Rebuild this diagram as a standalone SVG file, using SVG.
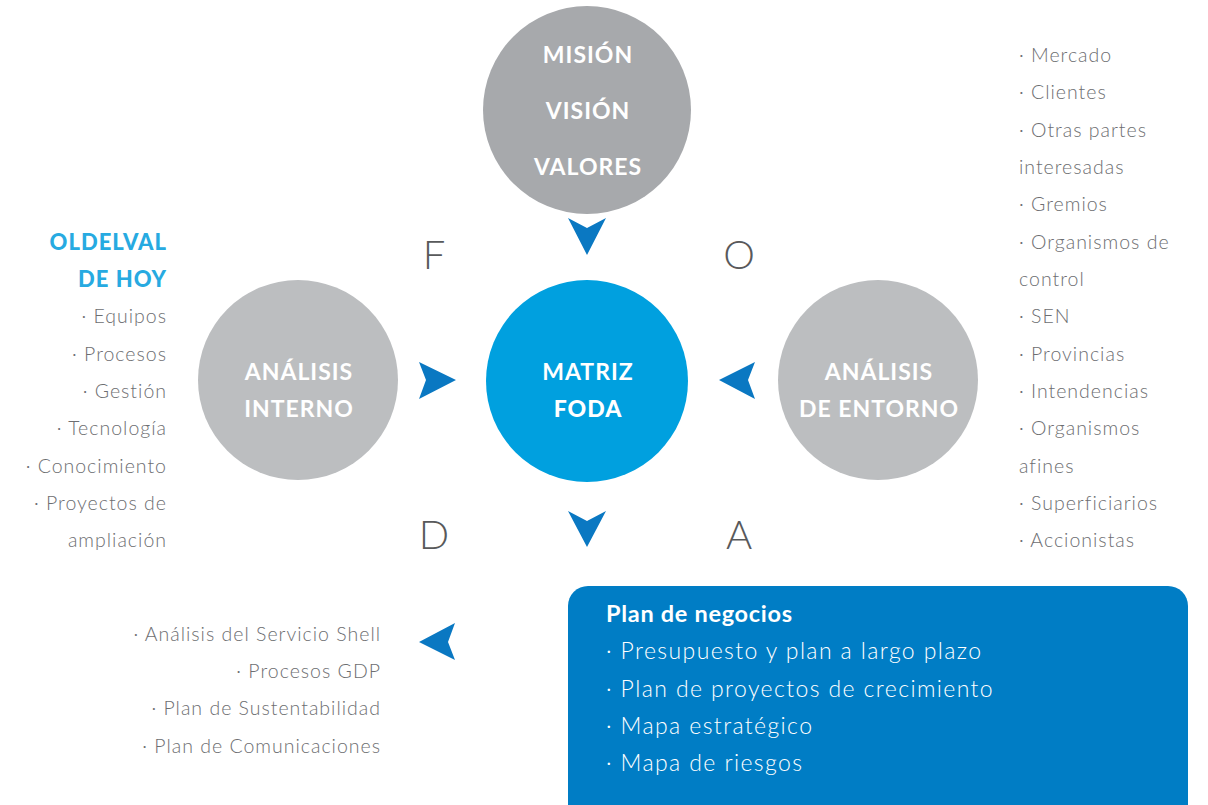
<svg xmlns="http://www.w3.org/2000/svg" width="1208" height="805" viewBox="0 0 1208 805">
<defs>
<style>
.ct{font-family:Lato,"Open Sans","Liberation Sans",sans-serif;font-weight:700;fill:#fff;font-size:23px;text-anchor:middle;letter-spacing:1px}
.lt{font-family:Lato,"Open Sans","Liberation Sans",sans-serif;font-weight:300;fill:#6d6e71;font-size:19.5px;letter-spacing:1px}
.r{text-anchor:end}
.hd{font-family:Lato,"Open Sans","Liberation Sans",sans-serif;font-weight:900;fill:#27aae1;font-size:22px;text-anchor:end;letter-spacing:1px}
.big{font-family:Lato,"Open Sans","Liberation Sans",sans-serif;font-weight:300;fill:#58595b;font-size:40px;text-anchor:middle}
.bx{font-family:Lato,"Open Sans","Liberation Sans",sans-serif;fill:#fff;font-size:23px;font-weight:300;letter-spacing:1.4px}
.arr{fill:#0a78c2}
</style>
</defs>
<rect width="1208" height="805" fill="#fff"/>
<g id="mision">
<circle cx="587" cy="110" r="104" fill="#a7a9ac"/>
<text class="ct" x="588" y="63">MISIÓN</text>
<text class="ct" x="588" y="119">VISIÓN</text>
<text class="ct" x="588" y="175">VALORES</text>
</g>
<g id="interno">
<circle cx="298" cy="380" r="100" fill="#bcbec0"/>
<text class="ct" x="299" y="380">ANÁLISIS</text>
<text class="ct" x="299" y="417">INTERNO</text>
</g>
<g id="foda">
<circle cx="587" cy="381" r="101" fill="#00a0df"/>
<text class="ct" x="588" y="380">MATRIZ</text>
<text class="ct" x="588" y="417" style="font-weight:900">FODA</text>
</g>
<g id="entorno">
<circle cx="878" cy="380" r="100" fill="#bcbec0"/>
<text class="ct" x="879" y="380">ANÁLISIS</text>
<text class="ct" x="879" y="417">DE ENTORNO</text>
</g>
<g id="plan">
<rect x="568" y="586" width="620" height="240" rx="20" fill="#007dc5"/>
<text class="bx" x="606" y="622" style="font-weight:700;font-size:23.5px;letter-spacing:0.7px">Plan de negocios</text>
<text class="bx" x="606" y="659">· Presupuesto y plan a largo plazo</text>
<text class="bx" x="606" y="697">· Plan de proyectos de crecimiento</text>
<text class="bx" x="606" y="734">· Mapa estratégico</text>
<text class="bx" x="606" y="771">· Mapa de riesgos</text>
</g>
<g id="labels">
<text class="big" x="434" y="269">F</text>
<text class="big" x="739" y="269">O</text>
<text class="big" x="434" y="549">D</text>
<text class="big" x="739" y="549">A</text>
</g>
<g id="oldelval">
<text class="hd" x="167" y="250">OLDELVAL</text>
<text class="hd" x="167" y="287">DE HOY</text>
<text class="lt r" x="167" y="323">· Equipos</text>
<text class="lt r" x="167" y="361">· Procesos</text>
<text class="lt r" x="167" y="398">· Gestión</text>
<text class="lt r" x="167" y="435">· Tecnología</text>
<text class="lt r" x="167" y="473">· Conocimiento</text>
<text class="lt r" x="167" y="510">· Proyectos de</text>
<text class="lt r" x="167" y="547">ampliación</text>
</g>
<g id="entorno-list">
<text class="lt" x="1019" y="62">· Mercado</text>
<text class="lt" x="1019" y="99">· Clientes</text>
<text class="lt" x="1019" y="137">· Otras partes</text>
<text class="lt" x="1019" y="174">interesadas</text>
<text class="lt" x="1019" y="211">· Gremios</text>
<text class="lt" x="1019" y="249">· Organismos de</text>
<text class="lt" x="1019" y="286">control</text>
<text class="lt" x="1019" y="323">· SEN</text>
<text class="lt" x="1019" y="361">· Provincias</text>
<text class="lt" x="1019" y="398">· Intendencias</text>
<text class="lt" x="1019" y="435">· Organismos</text>
<text class="lt" x="1019" y="473">afines</text>
<text class="lt" x="1019" y="510">· Superficiarios</text>
<text class="lt" x="1019" y="547">· Accionistas</text>
</g>
<g id="otros">
<text class="lt r" x="381" y="641">· Análisis del Servicio Shell</text>
<text class="lt r" x="381" y="678">· Procesos GDP</text>
<text class="lt r" x="381" y="715">· Plan de Sustentabilidad</text>
<text class="lt r" x="381" y="753">· Plan de Comunicaciones</text>
</g>
<g id="connectors">
<polygon class="arr" points="568,218 587,228 606,218 587,255"/>
<polygon class="arr" points="568,511 587,521 606,511 587,547"/>
<polygon class="arr" points="419,362 426,380 419,399 456,380"/>
<polygon class="arr" points="755,362 748,380 755,399 719,380"/>
<polygon class="arr" points="455,623 448,642 455,660 419,642"/>
</g>
</svg>
